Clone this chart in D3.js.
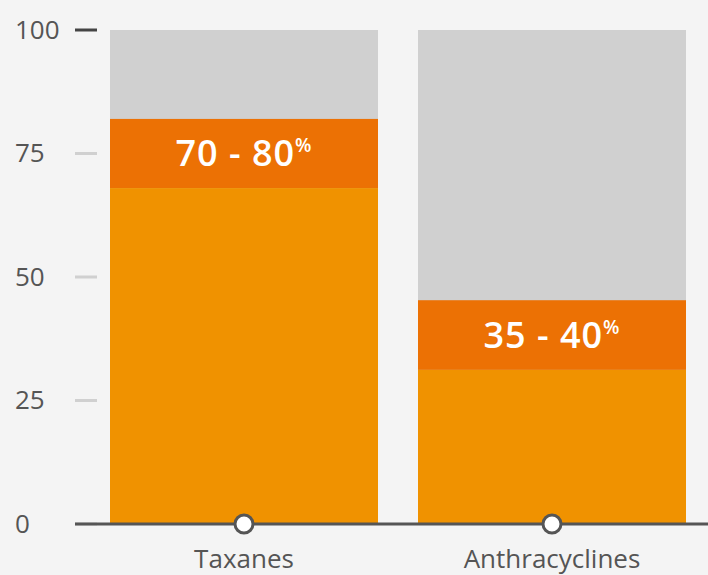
<!DOCTYPE html>
<html>
<head>
<meta charset="utf-8">
<script src="https://cdn.jsdelivr.net/npm/d3@7"></script>
<style>
  html, body { margin: 0; padding: 0; background: #f4f4f4; }
  svg { display: block; font-family: "Open Sans", "Noto Sans", sans-serif; }
</style>
</head>
<body>
<div id="chart"></div>
<script>
const categories = ["Taxanes", "Anthracyclines"];
const baseValues = [68, 31.2];
const rangeTops = [82, 45.3];
const rangeLabels = ["70 - 80", "35 - 40"];
const yTicks = [0, 25, 50, 75, 100];

const width = 708, height = 575;
const margin = { top: 30, right: 0, bottom: 51, left: 90 };

const svg = d3.select("#chart").append("svg")
  .attr("width", width)
  .attr("height", height);

const x = d3.scaleBand()
  .domain(categories)
  .range([110, 686])
  .paddingInner(40 / 308)
  .paddingOuter(0);

const y = d3.scaleLinear()
  .domain([0, 100])
  .range([height - margin.bottom, margin.top]);

// tick marks and labels
const ticks = svg.append("g").attr("class", "y-ticks");
ticks.selectAll("line").data(yTicks).join("line")
  .attr("x1", 75).attr("x2", 97)
  .attr("y1", d => y(d)).attr("y2", d => y(d))
  .attr("stroke", d => d === 100 ? "#444" : "#d0d0d0")
  .attr("stroke-width", 3);
ticks.selectAll("text").data(yTicks).join("text")
  .attr("x", 15).attr("y", d => y(d))
  .attr("dy", "0.34em")
  .attr("fill", "#555")
  .attr("font-size", 26)
  .text(d => d);

const bars = svg.append("g").selectAll("g").data(categories).join("g");

bars.append("rect")
  .attr("x", d => x(d)).attr("width", x.bandwidth())
  .attr("y", y(100)).attr("height", y(0) - y(100))
  .attr("fill", "#d0d0d0");

bars.append("rect")
  .attr("x", d => x(d)).attr("width", x.bandwidth())
  .attr("y", (d, i) => y(rangeTops[i]))
  .attr("height", (d, i) => y(baseValues[i]) - y(rangeTops[i]))
  .attr("fill", "#ec7104");

bars.append("rect")
  .attr("x", d => x(d)).attr("width", x.bandwidth())
  .attr("y", (d, i) => y(baseValues[i]))
  .attr("height", (d, i) => y(0) - y(baseValues[i]))
  .attr("fill", "#f09200");

const lbl = bars.append("text")
  .attr("x", d => x(d) + x.bandwidth() / 2)
  .attr("y", (d, i) => (y(rangeTops[i]) + y(baseValues[i])) / 2)
  .attr("dy", "0.36em")
  .attr("text-anchor", "middle")
  .attr("fill", "#fff")
  .attr("font-size", 36)
  .attr("font-weight", 600)
  .attr("letter-spacing", 1);
lbl.append("tspan").text((d, i) => rangeLabels[i]);
lbl.append("tspan").attr("font-size", 19).attr("dy", "-0.75em").text("%");

// baseline
svg.append("line")
  .attr("x1", 75).attr("x2", width)
  .attr("y1", y(0)).attr("y2", y(0))
  .attr("stroke", "#555").attr("stroke-width", 3);

svg.append("g").selectAll("circle").data(categories).join("circle")
  .attr("cx", d => x(d) + x.bandwidth() / 2)
  .attr("cy", y(0))
  .attr("r", 9)
  .attr("fill", "#fff")
  .attr("stroke", "#555")
  .attr("stroke-width", 3);

svg.append("g").selectAll("text").data(categories).join("text")
  .attr("x", d => x(d) + x.bandwidth() / 2)
  .attr("y", 568)
  .attr("text-anchor", "middle")
  .attr("fill", "#555")
  .attr("font-size", 26)
  .text(d => d);
</script>
</body>
</html>
